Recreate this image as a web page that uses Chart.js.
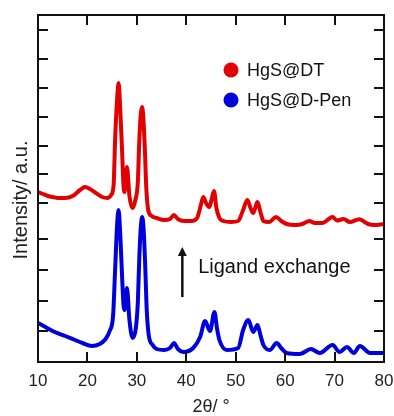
<!DOCTYPE html>
<html>
<head>
<meta charset="utf-8">
<script src="https://cdn.jsdelivr.net/npm/chart.js@4"></script>
<style>
  body { margin: 0; background: #fff; }
  canvas { display: block; }
</style>
</head>
<body>
<canvas id="xrd" width="394" height="416"></canvas>
<script>
// 2theta (deg) and intensity (a.u.)
let redAngle = [10, 11, 12, 13, 14, 15.5, 17, 18.5, 19.5, 20.5, 22, 23, 24, 24.8, 25.3, 25.6, 26.0, 26.3, 26.6, 27.0, 27.3, 27.5,
    28.0, 28.5, 29.1, 29.7, 30.2, 30.5, 30.8, 31.05, 31.3, 31.6, 31.9, 32.3, 33, 34, 35.5, 36.7, 37.5, 38.3, 39.5, 41, 42.2, 42.9,
    43.45, 44.0, 44.65, 45.1, 45.6, 46.1, 46.7, 47.5, 49, 50.5, 51.5, 52.35, 53.0, 53.55, 54.0, 54.4, 55.0, 55.6, 56.8, 58.15,
    59.2, 60.3, 62, 63.5, 64.9, 66, 67.5, 69.6, 70.5, 71.8, 73.1, 75, 76.8, 78, 80];
let redIntensity = [170, 168, 166, 165, 164, 164, 166, 172, 175, 173, 168, 165, 164, 167, 177, 222, 262, 279, 257, 212, 177, 170,
    195, 166, 154, 162, 180, 222, 248, 255, 245, 215, 175, 152, 146, 144, 142, 143, 147, 143, 141, 141, 144, 156,
    165, 159, 155, 162, 171, 154, 144, 141, 140, 141, 152, 162, 154, 149, 155, 160, 150, 141, 140, 145,
    141, 138, 137, 138, 141, 139, 139, 145, 141.5, 143, 140, 142.7, 138, 137, 138];

let blueAngle = [10, 11.5, 13.4, 15.5, 17.5, 19, 20.9, 22.5, 23.5, 24.5, 25.2, 25.6, 26.0, 26.3, 26.6, 27.0, 27.3, 27.5, 28.0, 28.5,
    29.15, 29.8, 30.2, 30.5, 30.8, 31.1, 31.4, 31.7, 32.0, 32.4, 33.2, 34, 35.5, 36.7, 37.5, 38.3, 39.4, 41.4, 42.8, 43.8, 44.8, 45.7,
    46.2, 46.7, 48.2, 50.5, 51.5, 52.55, 53.55, 54.4, 55.0, 55.6, 56.9, 58.3, 59.2, 60.3, 63, 65.2, 67, 69.6, 71, 72.5,
    73.9, 75.1, 77.2, 80];
let blueIntensity = [39, 35, 30, 26, 22, 19, 16, 18, 22, 31, 47, 92, 137, 152, 132, 87, 57, 52, 74, 42,
    24, 34, 60, 105, 135, 145, 130, 95, 52, 27, 17, 13, 12, 14, 19, 13, 10, 14, 25, 41, 31, 50,
    34, 22, 12, 14, 32, 42, 30, 37, 27, 17, 12, 19, 14, 9, 8, 13, 9, 17, 10, 15,
    9, 16, 9, 9];

let xTicks = [10, 20, 30, 40, 50, 60, 70, 80];
let yTicks = [31, 61, 92, 123, 159, 188, 216, 245, 274, 303, 332];

let seriesNames = ['HgS@DT', 'HgS@D-Pen'];
let seriesColors = ['#e30000', '#0000dc'];

const FONT = "'Liberation Sans', Arial, Helvetica, sans-serif";

function toPoints(xs, ys)
{
    return xs.map((x, i) => { return { x: x, y: ys[i] } });
}

const notes = {
    id: 'notes',
    afterDraw(chart)
    {
        const ctx = chart.ctx;
        const a = chart.chartArea;
        const xs = chart.scales.x;
        const ys = chart.scales.y;
        ctx.save();

        // frame
        ctx.strokeStyle = '#111';
        ctx.lineWidth = 2;
        ctx.strokeRect(a.left, a.top, a.right - a.left, a.bottom - a.top);

        // inward ticks on all four sides
        const len = 10;
        ctx.beginPath();
        for (let v of xTicks)
        {
            let px = Math.round(xs.getPixelForValue(v));
            ctx.moveTo(px, a.bottom); ctx.lineTo(px, a.bottom - len);
            ctx.moveTo(px, a.top); ctx.lineTo(px, a.top + len);
        }
        for (let v of yTicks)
        {
            let py = Math.round(ys.getPixelForValue(v));
            ctx.moveTo(a.left, py); ctx.lineTo(a.left + len, py);
            ctx.moveTo(a.right, py); ctx.lineTo(a.right - len, py);
        }
        ctx.stroke();

        // legend
        ctx.font = '18px ' + FONT;
        ctx.textBaseline = 'middle';
        ctx.textAlign = 'left';
        for (let i = 0; i < seriesNames.length; i++)
        {
            let cy = a.top + 55 + i * 30;
            ctx.fillStyle = seriesColors[i];
            ctx.beginPath();
            ctx.arc(231, cy, 7.5, 0, Math.PI * 2);
            ctx.fill();
            ctx.fillStyle = '#111';
            ctx.fillText(seriesNames[i], 247, cy + 1);
        }

        // arrow
        let ax = xs.getPixelForValue(39.2);
        let yBot = ys.getPixelForValue(65);
        let yTop = ys.getPixelForValue(115);
        ctx.strokeStyle = '#111';
        ctx.lineWidth = 2.5;
        ctx.beginPath();
        ctx.moveTo(ax, yBot);
        ctx.lineTo(ax, yTop + 7);
        ctx.stroke();
        ctx.fillStyle = '#111';
        ctx.beginPath();
        ctx.moveTo(ax, yTop);
        ctx.lineTo(ax - 4.5, yTop + 9);
        ctx.lineTo(ax + 4.5, yTop + 9);
        ctx.closePath();
        ctx.fill();

        ctx.font = '20px ' + FONT;
        ctx.fillText('Ligand exchange', xs.getPixelForValue(42.4), ys.getPixelForValue(95));

        // y title
        ctx.translate(21, 200);
        ctx.rotate(-Math.PI / 2);
        ctx.textAlign = 'center';
        ctx.fillStyle = '#222';
        ctx.fillText('Intensity/ a.u.', 0, 0);
        ctx.restore();
    }
};

let canvas = document.getElementById('xrd');

const data = {
    datasets: [
        {
            label: seriesNames[0],
            data: toPoints(redAngle, redIntensity),
            borderColor: seriesColors[0],
            borderWidth: 4,
            pointRadius: 0,
            cubicInterpolationMode: 'monotone'
        },
        {
            label: seriesNames[1],
            data: toPoints(blueAngle, blueIntensity),
            borderColor: seriesColors[1],
            borderWidth: 4,
            pointRadius: 0,
            cubicInterpolationMode: 'monotone'
        }
    ]
};

const config = {
    type: 'line',
    data: data,
    options: {
        responsive: false,
        animation: false,
        layout: { padding: { top: 15, right: 10, left: 0, bottom: 0 } },
        plugins: { legend: { display: false }, tooltip: { enabled: false } },
        scales: {
            x: {
                type: 'linear',
                min: 10,
                max: 80,
                afterBuildTicks: (scale) => { scale.ticks = xTicks.map((v) => { return { value: v } }) },
                afterFit: (scale) =>
                {
                    scale.height = 54;
                    scale.paddingLeft = 0;
                    scale.paddingRight = 0;
                },
                grid: { display: false, drawTicks: false },
                border: { display: false },
                ticks: { color: '#222', font: { family: FONT, size: 17 }, padding: 9, maxRotation: 0 },
                title: { display: true, text: '2θ/ °', color: '#222', font: { family: FONT, size: 18, lineHeight: 1.0 }, padding: { top: 0, bottom: 0 } }
            },
            y: {
                min: 0,
                max: 347,
                afterBuildTicks: (scale) => { scale.ticks = yTicks.map((v) => { return { value: v } }) },
                afterFit: (scale) =>
                {
                    scale.width = 38;
                    scale.paddingTop = 0;
                    scale.paddingBottom = 0;
                },
                grid: { display: false, drawTicks: false },
                border: { display: false },
                ticks: { display: false }
            }
        }
    },
    plugins: [notes]
};

var xrdChart = new Chart(canvas, config);
</script>
</body>
</html>
